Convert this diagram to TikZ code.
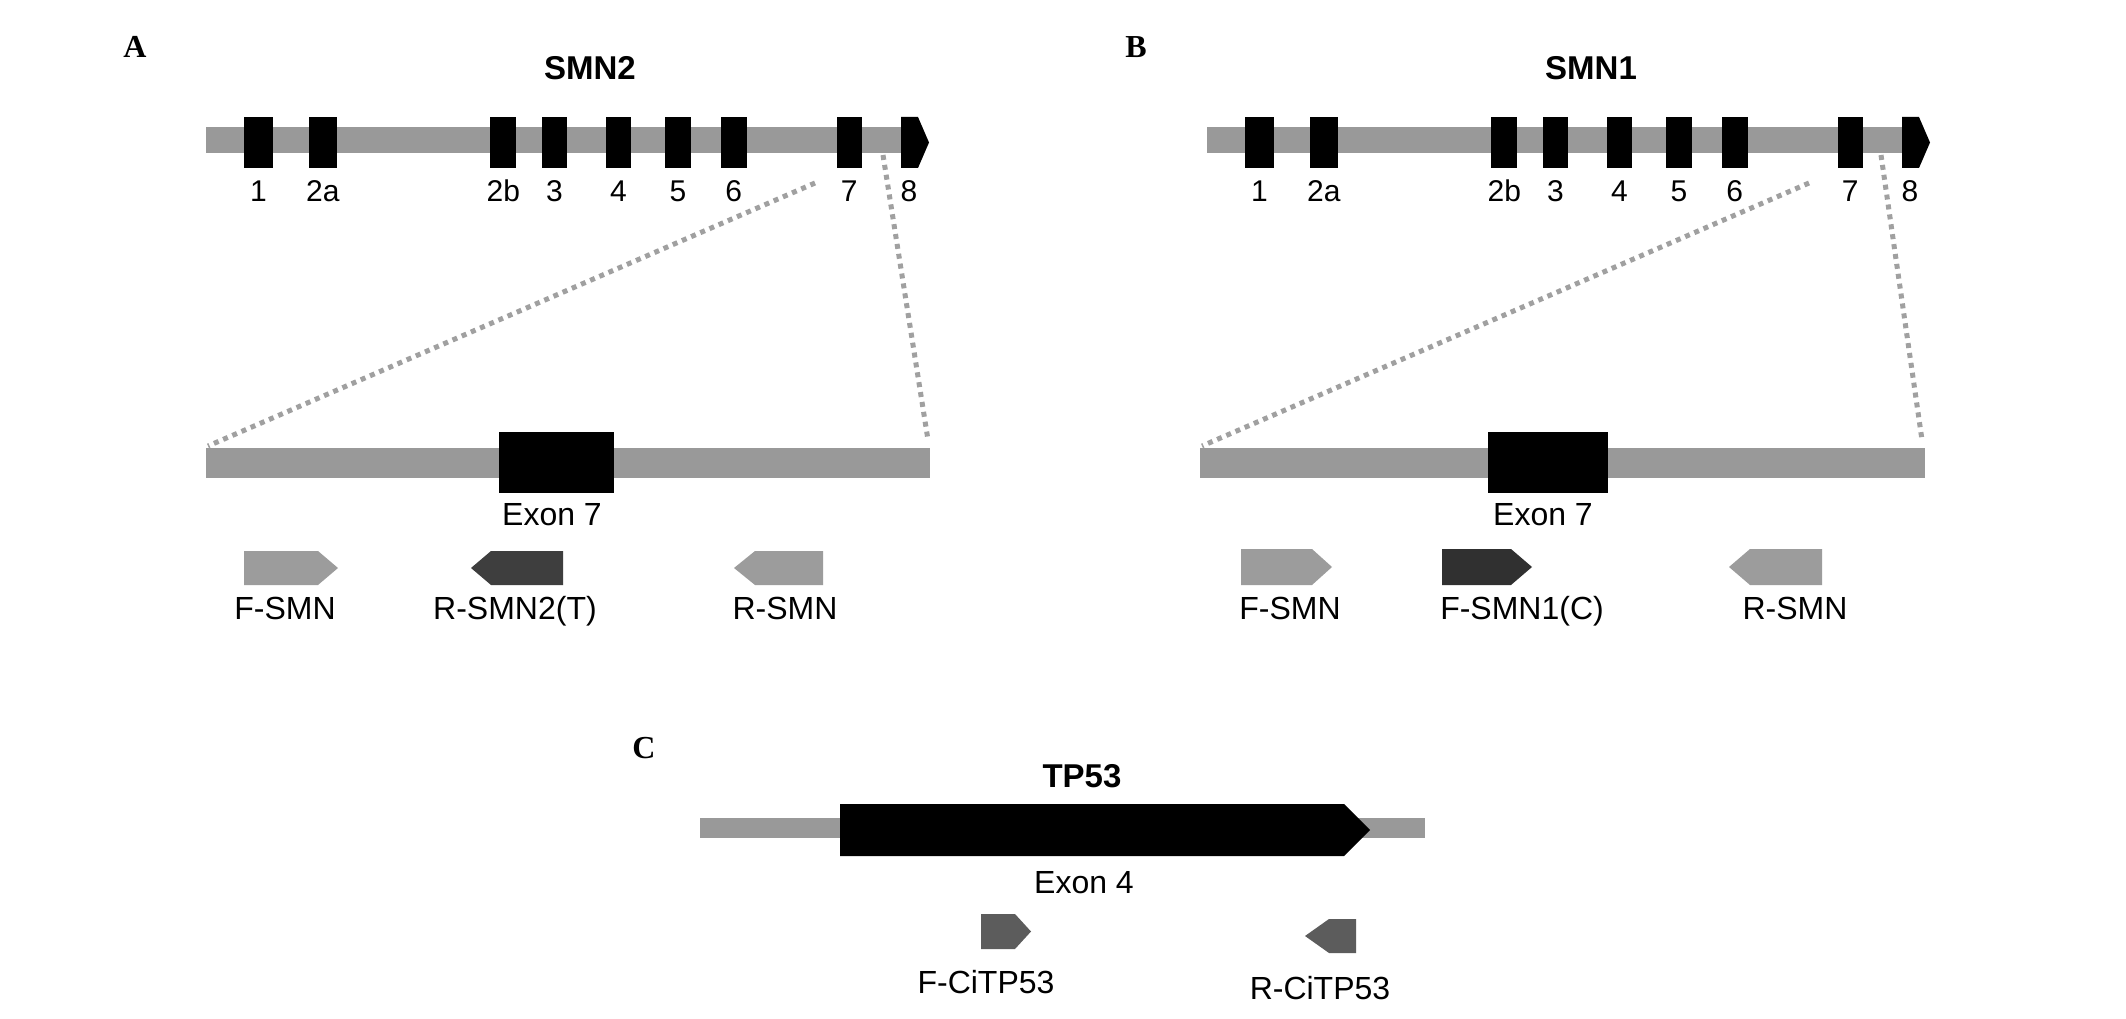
\documentclass[tikz,border=0pt]{standalone}
\usepackage{fontspec}
\setmainfont{Liberation Sans}
\newfontfamily\letterfont{Liberation Serif}
\definecolor{bargray}{HTML}{999999}
\definecolor{primgray}{HTML}{9C9C9C}
\definecolor{primdark}{HTML}{3E3E3E}
\definecolor{primdarker}{HTML}{303030}
\definecolor{primmid}{HTML}{5C5C5C}
\definecolor{dotgray}{HTML}{A0A0A0}
\newcommand{\fwdprimer}[6]{\fill[#6] (#1,#4) -- (#2,#4) -- (#3,{(#4+#5)/2}) -- (#2,#5) -- (#1,#5) -- cycle;}
\newcommand{\revprimer}[6]{\fill[#6] (#2,#4) -- (#3,#4) -- (#3,#5) -- (#2,#5) -- (#1,{(#4+#5)/2}) -- cycle;}
\begin{document}
\begin{tikzpicture}[x=1pt,y=-1pt,
  bar/.style={fill=bargray},
  lbl/.style={font=\fontsize{32}{38}\selectfont, anchor=base, inner sep=0pt},
  num/.style={font=\fontsize{30}{36}\selectfont, anchor=base, inner sep=0pt},
  ttl/.style={font=\bfseries\fontsize{33}{40}\selectfont, anchor=base, inner sep=0pt},
  panel/.style={font=\letterfont\bfseries\fontsize{32}{38}\selectfont, anchor=base, inner sep=0pt},
  zoomline/.style={draw=dotgray, line width=5pt, dash pattern=on 5pt off 5pt}]
\useasboundingbox[fill=white] (0,0) rectangle (2126,1019);

% ---------- panels A and B: gene overview ----------
\foreach \off/\p/\g in {0/A/SMN2, 1001/B/SMN1} {
  \begin{scope}[xshift=\off pt]
    \node[panel] (\p-letter) at (135,58) {\p};
    \node[ttl] (\p-title) at (590,80) {\g};
    \fill[bar] (206,127) rectangle (905,153);
    \foreach \a/\b/\t in {243.6/273.4/1, 308.7/336.9/2a, 490.2/516.3/2b, 541.7/567.2/3,
                          605.7/631.2/4, 665.3/690.8/5, 720.6/746.6/6, 837.1/861.5/7} {
      \fill (\a,117) rectangle (\b,168);
      \node[num] (\p-n\t) at ({(\a+\b)/2},202) {\t};
    }
    \fill (901,117) -- (918,117) -- (929,142.5) -- (918,168) -- (901,168) -- cycle;
    \node[num] (\p-n8) at (909,202) {8};
  \end{scope}
}

% ---------- panel A: exon 7 zoom ----------
\fill[bar] (206,448) rectangle (930,478);
\fill (499,432) rectangle (614,493);
\node[lbl] (A-exon) at (552,525) {Exon 7};
\coordinate (A-z1) at (815,183);
\coordinate (A-z2) at (208,446);
\coordinate (A-z3) at (883,155);
\coordinate (A-z4) at (928,440);
\draw[zoomline] (A-z1) -- (A-z2);
\draw[zoomline] (A-z3) -- (A-z4);
\fwdprimer{244}{318}{338}{551}{585}{primgray}
\revprimer{471}{491}{563}{551}{585}{primdark}
\revprimer{734}{755}{823}{551}{585}{primgray}
\node[lbl] (A-p1) at (285,619) {F-SMN};
\node[lbl] (A-p2) at (515,619) {R-SMN2(T)};
\node[lbl] (A-p3) at (785,619) {R-SMN};

% ---------- panel B: exon 7 zoom ----------
\fill[bar] (1200,448) rectangle (1925,478);
\fill (1488,432) rectangle (1608,493);
\node[lbl] (B-exon) at (1543,525) {Exon 7};
\coordinate (B-z1) at (1809,183);
\coordinate (B-z2) at (1202,446);
\coordinate (B-z3) at (1881,155);
\coordinate (B-z4) at (1922,440);
\draw[zoomline] (B-z1) -- (B-z2);
\draw[zoomline] (B-z3) -- (B-z4);
\fwdprimer{1241}{1312}{1332}{549}{585}{primgray}
\fwdprimer{1442}{1511}{1532}{549}{585}{primdarker}
\revprimer{1729}{1750}{1822}{549}{585}{primgray}
\node[lbl] (B-p1) at (1290,619) {F-SMN};
\node[lbl] (B-p2) at (1522,619) {F-SMN1(C)};
\node[lbl] (B-p3) at (1795,619) {R-SMN};

% ---------- panel C: TP53 ----------
\node[panel] (C-letter) at (644,758) {C};
\node[ttl] (C-title) at (1082,787) {TP53};
\fill[bar] (700,818) rectangle (1425,838);
\fill (840,804) -- (1344,804) -- (1370,830) -- (1344,856) -- (840,856) -- cycle;
\node[lbl] (C-exon) at (1084,893) {Exon 4};
\fwdprimer{981}{1015}{1031}{914}{949}{primmid}
\revprimer{1305}{1329}{1356}{919}{953}{primmid}
\node[lbl] (C-p1) at (986,993) {F-CiTP53};
\node[lbl] (C-p2) at (1320,999) {R-CiTP53};
\end{tikzpicture}
\end{document}
